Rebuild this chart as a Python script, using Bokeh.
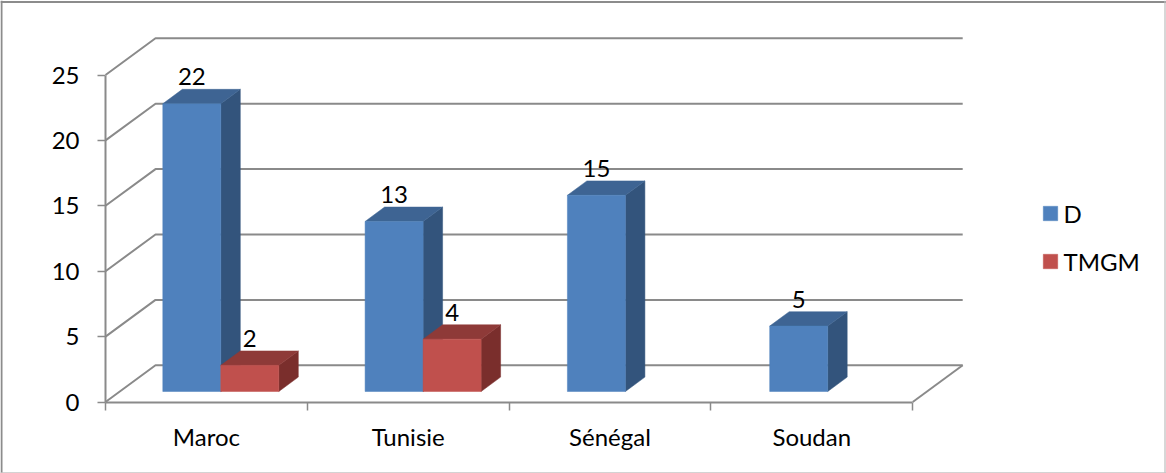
from bokeh.plotting import figure
from bokeh.models import LinearAxis, FixedTicker, Range1d, Legend, LegendItem
from bokeh.core.properties import value
from bokeh.embed import file_html
from bokeh.resources import INLINE

categories = ["Maroc", "Tunisie", "Sénégal", "Soudan"]
series_names = ["D", "TMGM"]
d_values = [22, 13, 15, 5]
tmgm_values = [2, 4, None, None]
y_ticks = [0, 5, 10, 15, 20, 25]

W, H = 1166, 473
X0, Y0 = 105.0, 401.5            # pixel position of the origin
CAT = 201.8                      # pixels per category
BAR_STEP = 202.3 / 201.8         # bars sit slightly wider apart than the axis ticks
UNIT = 13.08                     # pixels per value unit
FONT = "Lato"
FS = "24px"
AXIS_COL = "#8a8a8a"

def dx(px): return px / CAT
def dy(px): return px / UNIT
def X(px): return (px - X0) / CAT
def Y(py): return (Y0 - py) / UNIT

WALL_DX, WALL_DY = dx(50), dy(36.7)
BAR_W = dx(58)
BAR_DX, BAR_DY = dx(19.5), dy(14.4)
FRONT_DX, FRONT_DY = dx(14.4), dy(10.5)

p = figure(width=W, height=H, x_range=Range1d(X(0), X(W)), y_range=Range1d(Y(H), Y(0)),
           output_backend="svg", toolbar_location=None, min_border=0,
           background_fill_color="white", border_fill_color="white")
p.xaxis.visible = False
p.yaxis.visible = False
p.xgrid.visible = False
p.ygrid.visible = False
p.outline_line_color = None

# outer frame
p.segment([X(1), X(0), X(1164.5), X(0)], [Y(0), Y(1.5), Y(0), Y(472.3)],
          [X(1), X(W), X(1164.5), X(W)], [Y(H), Y(1.5), Y(H), Y(472.3)],
          line_color=["#8c8c8c", "#8c8c8c", "#bdbdbd", "#c4c4c4"], line_width=[2, 2, 1.2, 1.2])

# back wall grid lines, side wall diagonals and floor edge
n = len(categories)
for t in y_ticks:
    p.line([0, WALL_DX, n + WALL_DX], [t, t + WALL_DY, t + WALL_DY], line_color=AXIS_COL, line_width=2)
p.line([n, n + WALL_DX], [0, WALL_DY], line_color=AXIS_COL, line_width=2)

legend_renderers = []
def draw_series(values, offset, front, top, side):
    rows = [(i, v) for i, v in enumerate(values) if v is not None]
    left = [i * BAR_STEP + 0.5 + FRONT_DX - BAR_W + offset for i, _ in rows]
    right = [l + BAR_W for l in left]
    bottom = FRONT_DY
    tops = [v + bottom for _, v in rows]
    p.patches([[r, r + BAR_DX, r + BAR_DX, r] for r in right],
              [[bottom, bottom + BAR_DY, t + BAR_DY, t] for t in tops],
              fill_color=side, line_color=side, line_width=0.5)
    p.patches([[l, r, r + BAR_DX, l + BAR_DX] for l, r in zip(left, right)],
              [[t, t, t + BAR_DY, t + BAR_DY] for t in tops],
              fill_color=top, line_color=top, line_width=0.5)
    q = p.quad(left=left, right=right, bottom=[bottom] * len(left), top=tops,
               fill_color=front, line_color=front, line_width=0.5)
    legend_renderers.append(q)
    return [(l + r) / 2 for l, r in zip(left, right)], tops, [str(v) for _, v in rows]

label_sets = []
label_sets.append(draw_series(d_values, 0, "#4F81BD", "#3E6493", "#33547C"))
label_sets.append(draw_series(tmgm_values, BAR_W, "#C0504D", "#8E3A38", "#7A2E2C"))

for xs, ts, txt in label_sets:
    p.text(xs, ts, text=txt, text_font=value(FONT), text_font_size=value(FS),
           text_align="center", text_baseline="alphabetic", text_color="black", y_offset=-27)

# axes
cat_centres = [i + 0.5 for i in range(n)]
xax = LinearAxis(ticker=FixedTicker(ticks=cat_centres, minor_ticks=list(range(n + 1))),
                 major_label_overrides={c: s for c, s in zip(cat_centres, categories)},
                 fixed_location=0, bounds=(0, n), axis_line_color=AXIS_COL, axis_line_width=2,
                 major_tick_line_color=None, major_tick_in=0, major_tick_out=0,
                 minor_tick_line_color=AXIS_COL, minor_tick_line_width=1.5, minor_tick_in=0, minor_tick_out=8,
                 major_label_standoff=12, major_label_text_font=FONT, major_label_text_font_size=FS,
                 major_label_text_color="black", major_label_orientation="horizontal")
p.add_layout(xax, "below")
yax = LinearAxis(ticker=FixedTicker(ticks=y_ticks), fixed_location=0, bounds=(0, y_ticks[-1]),
                 axis_line_color=AXIS_COL, axis_line_width=2,
                 major_tick_line_color=AXIS_COL, major_tick_line_width=1.5, major_tick_in=0, major_tick_out=8,
                 minor_tick_line_color=None, major_label_standoff=18, major_label_text_font=FONT,
                 major_label_text_font_size=FS, major_label_text_color="black")
p.add_layout(yax, "left")

legend = Legend(items=[LegendItem(label=s, renderers=[r]) for s, r in zip(series_names, legend_renderers)],
                location=(1040.5, 197.5), orientation="vertical", glyph_width=18, glyph_height=18,
                label_text_font=FONT, label_text_font_size=FS, label_text_color="black",
                label_standoff=5, spacing=19, padding=0, margin=0, border_line_color=None,
                background_fill_alpha=0, label_height=15)
p.add_layout(legend, "center")

open("out.html", "w").write(file_html(p, INLINE))
